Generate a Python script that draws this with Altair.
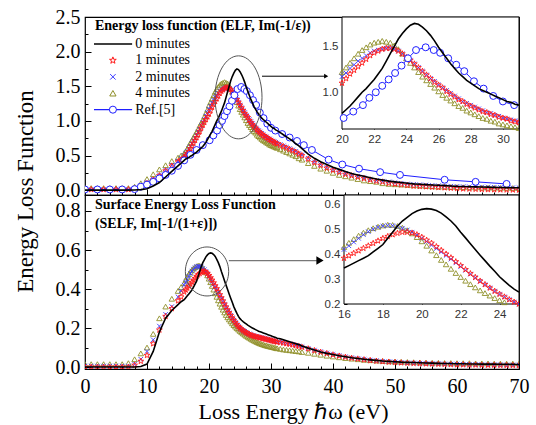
import altair as alt
import pandas as pd

# ---------------- energy grid (eV) ----------------
X_A = [0, 1, 2, 3, 4, 5, 6, 7, 8, 9, 10, 11, 12, 13, 14, 15]
X_15 = [15.5]
X_B = [16, 16.25, 16.5, 16.75, 17, 17.25, 17.5, 17.75, 18, 18.25, 18.5, 18.75,
       19, 19.25, 19.5, 19.75, 20, 20.25, 20.5, 20.75, 21, 21.25, 21.5, 21.75,
       22, 22.25, 22.5, 22.75, 23, 23.25, 23.5, 23.75, 24, 24.25, 24.5, 24.75,
       25, 25.25, 25.5, 25.75, 26, 26.25, 26.5, 26.75, 27, 27.25, 27.5, 27.75,
       28, 28.25, 28.5, 28.75, 29, 29.25, 29.5, 29.75, 30, 30.25, 30.5, 30.75, 31]
X_C = [31.5, 32, 32.5, 33, 33.5, 34, 34.5, 35]
X_D = [36, 37, 38, 39, 40, 41, 42, 43, 44, 45, 46, 47, 48, 49, 50, 51, 52, 53,
       54, 55, 56, 57, 58, 59, 60, 61, 62, 63, 64, 65, 66, 67, 68, 69, 70]
X_GRID = X_A + X_15 + X_B + X_C + X_D

# ---------------- ELF (top panel) ----------------
ELF_0 = [0, 0, 0, 0, 0, 0, 0, 0, 0.003, 0.008, 0.02, 0.06, 0.11, 0.19, 0.27, 0.35,
         0.39,
         0.43, 0.45, 0.46, 0.47, 0.49, 0.50, 0.52, 0.53, 0.55, 0.57, 0.59, 0.61,
         0.63, 0.66, 0.69, 0.73, 0.77, 0.81, 0.85, 0.90, 0.95, 1.00, 1.04, 1.09,
         1.14, 1.20, 1.26, 1.34, 1.42, 1.50, 1.58, 1.64, 1.69, 1.73, 1.75, 1.74,
         1.71, 1.67, 1.62, 1.56, 1.49, 1.43, 1.37, 1.31, 1.26, 1.21, 1.17, 1.13,
         1.10, 1.07, 1.04, 1.02, 1.00, 0.98, 0.96, 0.94, 0.92, 0.90, 0.89, 0.87, 0.86,
         0.83, 0.80, 0.77, 0.74, 0.71, 0.67, 0.64, 0.60,
         0.52, 0.46, 0.41, 0.37, 0.33, 0.30, 0.27, 0.24, 0.22, 0.20,
         0.18, 0.16, 0.145, 0.13, 0.12, 0.11, 0.10, 0.09, 0.085, 0.08,
         0.075, 0.07, 0.065, 0.06, 0.055, 0.052, 0.05, 0.047, 0.045, 0.043,
         0.04, 0.038, 0.036, 0.035, 0.034]
ELF_1 = [0.01, 0.01, 0.01, 0.01, 0.01, 0.01, 0.01, 0.01, 0.02, 0.05, 0.10, 0.15, 0.21, 0.28, 0.35, 0.41,
         0.44,
         0.47, 0.50, 0.53, 0.56, 0.60, 0.64, 0.68, 0.72, 0.76, 0.80, 0.85, 0.90,
         0.94, 0.98, 1.02, 1.06, 1.10, 1.15, 1.20, 1.24, 1.28, 1.32, 1.36, 1.40,
         1.43, 1.45, 1.47, 1.48, 1.48, 1.47, 1.45, 1.42, 1.38, 1.35, 1.31, 1.27,
         1.23, 1.19, 1.15, 1.11, 1.08, 1.05, 1.01, 0.98, 0.95, 0.92, 0.90, 0.87,
         0.85, 0.83, 0.81, 0.79, 0.78, 0.76, 0.75, 0.73, 0.72, 0.71, 0.69, 0.68, 0.67,
         0.65, 0.63, 0.61, 0.59, 0.57, 0.55, 0.52, 0.50,
         0.45, 0.40, 0.36, 0.32, 0.29, 0.26, 0.23, 0.21, 0.19, 0.17,
         0.15, 0.13, 0.12, 0.10, 0.09, 0.08, 0.07, 0.06, 0.055, 0.05,
         0.045, 0.04, 0.035, 0.03, 0.025, 0.02, 0.018, 0.015, 0.012, 0.01,
         0.008, 0.006, 0.005, 0.004, 0.003]
ELF_2 = [0.01, 0.01, 0.01, 0.01, 0.01, 0.01, 0.01, 0.01, 0.02, 0.06, 0.11, 0.16, 0.22, 0.29, 0.36, 0.42,
         0.46,
         0.50, 0.53, 0.56, 0.60, 0.63, 0.67, 0.71, 0.75, 0.79, 0.84, 0.88, 0.93,
         0.98, 1.02, 1.07, 1.12, 1.17, 1.21, 1.26, 1.30, 1.34, 1.37, 1.40, 1.43,
         1.45, 1.46, 1.47, 1.48, 1.48, 1.47, 1.45, 1.42, 1.39, 1.35, 1.31, 1.27,
         1.23, 1.19, 1.15, 1.12, 1.08, 1.05, 1.02, 0.99, 0.96, 0.93, 0.90, 0.88,
         0.86, 0.84, 0.82, 0.80, 0.78, 0.77, 0.75, 0.74, 0.72, 0.71, 0.70, 0.69, 0.68,
         0.66, 0.64, 0.62, 0.60, 0.58, 0.56, 0.53, 0.51,
         0.46, 0.41, 0.37, 0.33, 0.30, 0.27, 0.24, 0.22, 0.20, 0.18,
         0.16, 0.14, 0.13, 0.12, 0.11, 0.10, 0.09, 0.085, 0.08, 0.075,
         0.07, 0.065, 0.06, 0.058, 0.055, 0.052, 0.05, 0.048, 0.046, 0.044,
         0.042, 0.04, 0.038, 0.036, 0.035]
ELF_4 = [0.03, 0.03, 0.03, 0.03, 0.03, 0.03, 0.03, 0.03, 0.05, 0.10, 0.16, 0.23, 0.30, 0.36, 0.42, 0.47,
         0.50,
         0.53, 0.56, 0.60, 0.64, 0.68, 0.72, 0.76, 0.80, 0.84, 0.88, 0.93, 0.97,
         1.01, 1.06, 1.11, 1.16, 1.22, 1.27, 1.32, 1.37, 1.42, 1.46, 1.49, 1.52,
         1.54, 1.55, 1.56, 1.55, 1.54, 1.51, 1.47, 1.42, 1.37, 1.32, 1.27, 1.22,
         1.17, 1.13, 1.09, 1.05, 1.01, 0.97, 0.94, 0.91, 0.88, 0.85, 0.83, 0.80,
         0.78, 0.76, 0.74, 0.72, 0.71, 0.69, 0.68, 0.66, 0.65, 0.64, 0.63, 0.62, 0.61,
         0.59, 0.57, 0.55, 0.53, 0.51, 0.49, 0.46, 0.44,
         0.39, 0.35, 0.31, 0.28, 0.25, 0.22, 0.20, 0.18, 0.16, 0.14,
         0.13, 0.12, 0.10, 0.09, 0.085, 0.08, 0.075, 0.07, 0.065, 0.06,
         0.055, 0.05, 0.048, 0.046, 0.044, 0.042, 0.04, 0.038, 0.036, 0.035,
         0.034, 0.033, 0.032, 0.031, 0.03]

# Ref.[5] (own sampling)
REF_X = [0, 2, 4, 6, 8, 9, 10, 11, 12, 13, 14, 15, 16, 17, 18, 19,
         20.1, 20.7, 21.3, 21.7, 22.1, 22.5, 22.9, 23.3, 23.7, 24.1,
         24.6, 25.2, 25.7, 26.1, 26.6, 27.1, 27.6, 28.2, 28.8, 29.4,
         30.0, 30.7, 31.8, 33.0, 34.2, 35.3, 36.6,
         39.3, 41.5, 44.2, 47.6, 50.8, 58.0, 63.0, 68.0]
REF_Y = [0.01, 0.01, 0.01, 0.01, 0.015, 0.05, 0.08, 0.12, 0.17, 0.22, 0.28, 0.35, 0.43, 0.51, 0.58, 0.65,
         0.72, 0.79, 0.86, 0.94, 1.0, 1.07, 1.14, 1.21, 1.29, 1.37,
         1.46, 1.49, 1.46, 1.43, 1.37, 1.30, 1.23, 1.12, 1.04, 0.96,
         0.90, 0.86, 0.81, 0.76, 0.71, 0.65, 0.58,
         0.44, 0.37, 0.31, 0.26, 0.22, 0.15, 0.12, 0.09]

# ---------------- SELF (bottom panel) ----------------
SELF_0 = [0, 0, 0, 0, 0, 0, 0, 0, 0, 0.003, 0.015, 0.08, 0.18, 0.25, 0.29, 0.32,
          0.335,
          0.345, 0.355, 0.365, 0.375, 0.385, 0.395, 0.41, 0.425, 0.44, 0.465, 0.49, 0.515,
          0.535, 0.55, 0.565, 0.575, 0.582, 0.585, 0.583, 0.577, 0.567, 0.552, 0.535, 0.515,
          0.49, 0.467, 0.443, 0.42, 0.397, 0.375, 0.353, 0.332, 0.31, 0.292, 0.275, 0.26,
          0.248, 0.24, 0.233, 0.227, 0.221, 0.215, 0.21, 0.205, 0.20, 0.196, 0.192, 0.188,
          0.184, 0.181, 0.178, 0.175, 0.172, 0.169, 0.166, 0.163, 0.16, 0.157, 0.154, 0.151, 0.148,
          0.145, 0.14, 0.135, 0.13, 0.125, 0.12, 0.115, 0.108,
          0.097, 0.087, 0.077, 0.07, 0.064, 0.058, 0.053, 0.048, 0.044, 0.04,
          0.037, 0.034, 0.031, 0.029, 0.027, 0.025, 0.024, 0.023, 0.022, 0.021,
          0.02, 0.019, 0.018, 0.018, 0.017, 0.017, 0.016, 0.016, 0.015, 0.015,
          0.015, 0.014, 0.014, 0.014, 0.013]
SELF_1 = [0, 0, 0, 0, 0, 0, 0, 0, 0.01, 0.03, 0.06, 0.12, 0.19, 0.26, 0.30, 0.34,
          0.36,
          0.385, 0.395, 0.405, 0.415, 0.425, 0.435, 0.445, 0.455, 0.465, 0.473, 0.48, 0.486,
          0.49, 0.49, 0.487, 0.48, 0.47, 0.458, 0.446, 0.432, 0.417, 0.402, 0.387, 0.371,
          0.355, 0.339, 0.323, 0.308, 0.293, 0.279, 0.265, 0.252, 0.24, 0.229, 0.218, 0.208,
          0.20, 0.193, 0.187, 0.181, 0.176, 0.172, 0.168, 0.164, 0.161, 0.158, 0.156, 0.154,
          0.152, 0.15, 0.148, 0.146, 0.144, 0.142, 0.14, 0.138, 0.136, 0.134, 0.132, 0.13, 0.128,
          0.126, 0.123, 0.12, 0.117, 0.114, 0.11, 0.106, 0.102,
          0.094, 0.085, 0.077, 0.07, 0.063, 0.057, 0.051, 0.046, 0.042, 0.038,
          0.034, 0.031, 0.028, 0.026, 0.024, 0.022, 0.02, 0.019, 0.018, 0.017,
          0.016, 0.015, 0.014, 0.013, 0.012, 0.012, 0.011, 0.011, 0.01, 0.01,
          0.01, 0.009, 0.009, 0.009, 0.008]
SELF_2 = [0.005, 0.005, 0.005, 0.005, 0.005, 0.005, 0.005, 0.005, 0.015, 0.04, 0.08, 0.14, 0.21, 0.27, 0.31, 0.36,
          0.39,
          0.42, 0.435, 0.45, 0.465, 0.48, 0.492, 0.502, 0.51, 0.515, 0.517, 0.516, 0.512,
          0.506, 0.499, 0.49, 0.478, 0.465, 0.452, 0.438, 0.424, 0.41, 0.396, 0.381, 0.366,
          0.351, 0.336, 0.321, 0.306, 0.292, 0.278, 0.265, 0.252, 0.24, 0.229, 0.218, 0.208,
          0.20, 0.194, 0.188, 0.183, 0.178, 0.174, 0.17, 0.166, 0.163, 0.16, 0.158, 0.156,
          0.154, 0.152, 0.15, 0.148, 0.146, 0.144, 0.142, 0.14, 0.138, 0.136, 0.134, 0.132, 0.13,
          0.128, 0.125, 0.122, 0.119, 0.116, 0.112, 0.108, 0.104,
          0.096, 0.087, 0.079, 0.072, 0.065, 0.059, 0.053, 0.048, 0.044, 0.04,
          0.036, 0.033, 0.03, 0.028, 0.026, 0.024, 0.022, 0.021, 0.02, 0.019,
          0.018, 0.017, 0.016, 0.015, 0.015, 0.014, 0.014, 0.013, 0.013, 0.012,
          0.012, 0.012, 0.011, 0.011, 0.011]
SELF_4 = [0.015, 0.015, 0.015, 0.015, 0.015, 0.015, 0.015, 0.02, 0.04, 0.07, 0.10, 0.17, 0.25, 0.31, 0.35, 0.39,
          0.41,
          0.43, 0.447, 0.462, 0.476, 0.488, 0.498, 0.506, 0.512, 0.517, 0.52, 0.519, 0.515,
          0.508, 0.498, 0.485, 0.47, 0.453, 0.435, 0.416, 0.397, 0.378, 0.36, 0.342, 0.325,
          0.309, 0.294, 0.28, 0.267, 0.255, 0.244, 0.234, 0.224, 0.215, 0.207, 0.199, 0.192,
          0.185, 0.178, 0.172, 0.166, 0.16, 0.155, 0.15, 0.145, 0.14, 0.136, 0.132, 0.128,
          0.124, 0.121, 0.118, 0.115, 0.112, 0.11, 0.108, 0.106, 0.104, 0.102, 0.10, 0.098, 0.096,
          0.093, 0.09, 0.088, 0.086, 0.084, 0.082, 0.08, 0.077,
          0.073, 0.068, 0.063, 0.058, 0.054, 0.05, 0.046, 0.043, 0.04, 0.037,
          0.035, 0.033, 0.031, 0.029, 0.028, 0.027, 0.026, 0.025, 0.024, 0.023,
          0.022, 0.022, 0.021, 0.021, 0.02, 0.02, 0.02, 0.019, 0.019, 0.019,
          0.018, 0.018, 0.018, 0.018, 0.018]

for arr in (ELF_0, ELF_1, ELF_2, ELF_4, SELF_0, SELF_1, SELF_2, SELF_4):
    assert len(arr) == len(X_GRID), len(arr)
assert len(REF_X) == len(REF_Y)

# ---------------- text ----------------
LEGEND_LABELS = ["0 minutes", "1 minutes", "2 minutes", "4 minutes", "Ref.[5]"]
TITLE_TOP = "Energy loss function (ELF, Im(-1/\u03b5))"
TITLE_BOT = ["Surface Energy Loss Function", "(SELF, Im[-1/(1+\u03b5)])"]
X_TITLE = "Loss Energy \u210f\u03c9 (eV)"
Y_TITLE = "Energy Loss Function"

X_TICKS = list(range(0, 71, 2))
YT_TICKS = [0, 0.25, 0.5, 0.75, 1.0, 1.25, 1.5, 1.75, 2.0, 2.25, 2.5]
YB_TICKS = [0, 0.1, 0.2, 0.3, 0.4, 0.5, 0.6, 0.7, 0.8]
XI_T_TICKS = [20, 22, 24, 26, 28, 30]
YI_T_TICKS = [1.0, 1.5]
XI_B_TICKS = [16, 18, 20, 22, 24]
YI_B_TICKS = [0.2, 0.3, 0.4, 0.5, 0.6]

# ---------------- style ----------------
SERIF = "Liberation Serif"
SANS = "Liberation Sans"
RED = "#ff1a1a"
BLUE_X = "#3a3aff"
OLIVE = "#8e8e28"
BLUE_REF = "#1f1fff"
STAR = ("M0,-1 L0.235,-0.324 L0.951,-0.309 L0.380,0.124 L0.588,0.809 L0,0.4 "
        "L-0.588,0.809 L-0.380,0.124 L-0.951,-0.309 L-0.235,-0.324 Z")
XMARK = "M-1,-1 L1,1 M-1,1 L1,-1"
ELL_TOP = "M -0.566 0 A 0.566 1 0 1 0 0.566 0 A 0.566 1 0 1 0 -0.566 0 Z"
ELL_BOT = "M -0.884 0 A 0.884 1 0 1 0 0.884 0 A 0.884 1 0 1 0 -0.884 0 Z"

W = 434
H_TOP = 178
H_BOT = 174


def df_xy(xs, ys):
    return pd.DataFrame({"x": xs, "y": ys})


def cut(df, x0, x1, y0, y1):
    return df[(df.x >= x0) & (df.x <= x1) & (df.y >= y0) & (df.y <= y1)]


def series_layers(X, Y, d0, d1, d2, d4, ref=None):
    lay = [
        alt.Chart(d4).mark_point(shape="triangle-up", filled=False, color=OLIVE, size=30,
                                 strokeWidth=0.9, opacity=1, clip=True).encode(x=X, y=Y),
        alt.Chart(d2).mark_point(shape=XMARK, filled=False, color=BLUE_X, size=20,
                                 strokeWidth=0.9, opacity=1, clip=True).encode(x=X, y=Y),
        alt.Chart(d1).mark_point(shape=STAR, filled=False, color=RED, size=36,
                                 strokeWidth=0.9, opacity=1, clip=True).encode(x=X, y=Y),
    ]
    if ref is not None:
        lay += [
            alt.Chart(ref).mark_line(color=BLUE_REF, strokeWidth=1, clip=True).encode(x=X, y=Y),
            alt.Chart(ref).mark_point(shape="circle", filled=True, fill="white", stroke=BLUE_REF,
                                      size=48, strokeWidth=1, opacity=1, clip=True).encode(x=X, y=Y),
        ]
    lay.append(alt.Chart(d0).mark_line(color="black", strokeWidth=1.6, clip=True).encode(x=X, y=Y))
    return lay


MAJOR_X = alt.ExprRef(expr="(datum.value % 10 == 0) ? -6 : -3")
MAJOR_YT = alt.ExprRef(expr="(round(datum.value*100) % 50 == 0) ? -6 : -3")
MAJOR_YB = alt.ExprRef(expr="(round(datum.value*10) % 2 == 0) ? -6 : -3")
SMALL = alt.ExprRef(expr="-3")

MAIN_AX = dict(grid=False, domain=False, labelFlush=False, labelFont=SERIF, labelFontSize=20,
               labelColor="black", tickColor="black")
INSET_AX = dict(title=None, grid=False, domain=False, labelFlush=False, labelFont=SANS,
                labelFontSize=11.5, labelColor="#333333", tickSize=SMALL, labelPadding=7,
                tickColor="black")

# ---------------- top panel ----------------
XT = alt.X("x:Q", scale=alt.Scale(domain=[0, 70], nice=False, zero=False),
           axis=alt.Axis(values=X_TICKS, labels=False, title=None, tickSize=MAJOR_X, **MAIN_AX))
YT = alt.Y("y:Q", scale=alt.Scale(domain=[-0.07, 2.5], nice=False, zero=False),
           axis=alt.Axis(values=YT_TICKS, title=None,
                         labelExpr="(round(datum.value*100) % 50 == 0) ? format(datum.value, '.1f') : ''",
                         tickSize=MAJOR_YT, labelPadding=11, **MAIN_AX))

elf0, elf1, elf2, elf4 = (df_xy(X_GRID, a) for a in (ELF_0, ELF_1, ELF_2, ELF_4))
ref = df_xy(REF_X, REF_Y)

leg_y = [2.11 - 0.237 * i for i in range(len(LEGEND_LABELS))]
leg_text = pd.DataFrame({"x": [8.1] * 5, "y": leg_y, "t": LEGEND_LABELS})
leg_line = pd.DataFrame({"x": [1.45, 1.45], "x2": [7.6, 7.6], "y": [leg_y[0], leg_y[4]],
                         "c": ["black", BLUE_REF]})


def pt(x, y):
    return pd.DataFrame({"x": [x], "y": [y]})


top_main = alt.layer(
    *series_layers(XT, YT, elf0, elf1, elf2, elf4, ref),
    alt.Chart(pd.DataFrame({"x": [1.6], "y": [2.37], "t": [TITLE_TOP]})).mark_text(
        align="left", baseline="middle", font=SERIF, fontSize=14, fontWeight="bold", color="black"
    ).encode(x=XT, y=YT, text="t:N"),
    alt.Chart(leg_line).mark_rule(strokeWidth=1.4).encode(
        x=XT, x2="x2", y=YT, color=alt.Color("c:N", scale=None)),
    alt.Chart(pt(4.5, leg_y[1])).mark_point(shape=STAR, filled=False, color=RED, size=50,
                                             strokeWidth=1, opacity=1).encode(x=XT, y=YT),
    alt.Chart(pt(4.5, leg_y[2])).mark_point(shape=XMARK, filled=False, color=BLUE_X, size=30,
                                             strokeWidth=1, opacity=1).encode(x=XT, y=YT),
    alt.Chart(pt(4.5, leg_y[3])).mark_point(shape="triangle-up", filled=False, color=OLIVE, size=40,
                                             strokeWidth=1, opacity=1).encode(x=XT, y=YT),
    alt.Chart(pt(4.5, leg_y[4])).mark_point(shape="circle", filled=True, fill="white", stroke=BLUE_REF,
                                             size=50, strokeWidth=1, opacity=1).encode(x=XT, y=YT),
    alt.Chart(leg_text).mark_text(align="left", baseline="middle", font=SERIF, fontSize=14,
                                  color="black").encode(x=XT, y=YT, text="t:N"),
    alt.Chart(pt(24.76, 1.34)).mark_point(shape=ELL_TOP, filled=False, color="#555555", size=6889,
                                          strokeWidth=1, opacity=1).encode(x=XT, y=YT),
    alt.Chart(pd.DataFrame({"x": [28.55], "x2": [38.9], "y": [1.645]})).mark_rule(
        color="black", strokeWidth=1).encode(x=XT, x2="x2", y=YT),
    alt.Chart(pt(38.9, 1.645)).mark_point(shape="triangle-right", filled=True, color="black",
                                          size=22, opacity=1).encode(x=XT, y=YT),
)

XI_T = alt.X("x:Q", scale=alt.Scale(domain=[20, 31], range=[257, W], nice=False, zero=False),
             axis=alt.Axis(orient="bottom", offset=-(H_TOP - 112), values=XI_T_TICKS, **INSET_AX))
YI_T = alt.Y("y:Q", scale=alt.Scale(domain=[0.6, 1.82], range=[112, 0], nice=False, zero=False),
             axis=alt.Axis(orient="left", offset=-257, values=YI_T_TICKS, format=".1f", **INSET_AX))
lim_t = (20, 31, 0.6, 1.82)
top_inset = alt.layer(
    alt.Chart(pd.DataFrame({"x": [20], "x2": [31], "y": [0.6], "y2": [1.82]})).mark_rect(
        fill="white", stroke="black", strokeWidth=1).encode(x=XI_T, x2="x2", y=YI_T, y2="y2"),
    *series_layers(XI_T, YI_T, cut(elf0, *lim_t), cut(elf1, *lim_t), cut(elf2, *lim_t),
                   cut(elf4, *lim_t), cut(ref, *lim_t)),
)

top = alt.layer(top_main, top_inset).resolve_scale(x="independent", y="independent").properties(
    width=W, height=H_TOP)

# ---------------- bottom panel ----------------
XB = alt.X("x:Q", scale=alt.Scale(domain=[0, 70], nice=False, zero=False),
           axis=alt.Axis(values=X_TICKS,
                         labelExpr="(datum.value % 10 == 0) ? datum.label : ''",
                         tickSize=MAJOR_X, labelPadding=13,
                         title=X_TITLE, titleX=208, titleY=42, titleAlign="center",
                         titleBaseline="middle", titleFont=SERIF, titleFontSize=22,
                         titleFontWeight="normal", titleColor="black", **MAIN_AX))
YB = alt.Y("y:Q", scale=alt.Scale(domain=[-0.01, 0.882], nice=False, zero=False),
           axis=alt.Axis(values=YB_TICKS,
                         labelExpr="(round(datum.value*10) % 2 == 0) ? format(datum.value, '.1f') : ''",
                         tickSize=MAJOR_YB, labelPadding=11,
                         title=Y_TITLE, titleX=-60, titleY=-4, titleAngle=270,
                         titleAlign="center", titleBaseline="middle", titleFont=SERIF,
                         titleFontSize=23, titleFontWeight="normal", titleColor="black", **MAIN_AX))

self0, self1, self2, self4 = (df_xy(X_GRID, a) for a in (SELF_0, SELF_1, SELF_2, SELF_4))

bot_main = alt.layer(
    *series_layers(XB, YB, self0, self1, self2, self4),
    alt.Chart(pd.DataFrame({"x": [1.6, 1.6], "y": [0.83, 0.733], "t": TITLE_BOT})).mark_text(
        align="left", baseline="middle", font=SERIF, fontSize=14, fontWeight="bold", color="black"
    ).encode(x=XB, y=YB, text="t:N"),
    alt.Chart(pt(19.68, 0.49)).mark_point(shape=ELL_BOT, filled=False, color="#555555", size=2401,
                                          strokeWidth=1, opacity=1).encode(x=XB, y=YB),
    alt.Chart(pd.DataFrame({"x": [23.2], "x2": [37.4], "y": [0.546]})).mark_rule(
        color="#777777", strokeWidth=1.2).encode(x=XB, x2="x2", y=YB),
    alt.Chart(pt(37.9, 0.546)).mark_point(shape="triangle-right", filled=True, color="black",
                                          size=70, opacity=1).encode(x=XB, y=YB),
)

XI_B = alt.X("x:Q", scale=alt.Scale(domain=[16, 25], range=[259, W], nice=False, zero=False),
             axis=alt.Axis(orient="bottom", offset=-(H_BOT - 109), values=XI_B_TICKS, **INSET_AX))
YI_B = alt.Y("y:Q", scale=alt.Scale(domain=[0.2, 0.64], range=[109, 0], nice=False, zero=False),
             axis=alt.Axis(orient="left", offset=-259, values=YI_B_TICKS, format=".1f", **INSET_AX))
lim_b = (16, 25, 0.2, 0.64)
bot_inset = alt.layer(
    alt.Chart(pd.DataFrame({"x": [16], "x2": [25], "y": [0.2], "y2": [0.64]})).mark_rect(
        fill="white", stroke="black", strokeWidth=1).encode(x=XI_B, x2="x2", y=YI_B, y2="y2"),
    *series_layers(XI_B, YI_B, cut(self0, *lim_b), cut(self1, *lim_b), cut(self2, *lim_b),
                   cut(self4, *lim_b)),
)

bottom = alt.layer(bot_main, bot_inset).resolve_scale(x="independent", y="independent").properties(
    width=W, height=H_BOT)

chart = alt.vconcat(top, bottom, spacing=0, bounds="flush").properties(
    padding={"left": 13, "top": 6, "right": 5, "bottom": 5},
    background="white",
).configure_view(stroke="black", strokeWidth=1.2)

chart.save("out.html", embed_options={"renderer": "svg", "actions": False})
